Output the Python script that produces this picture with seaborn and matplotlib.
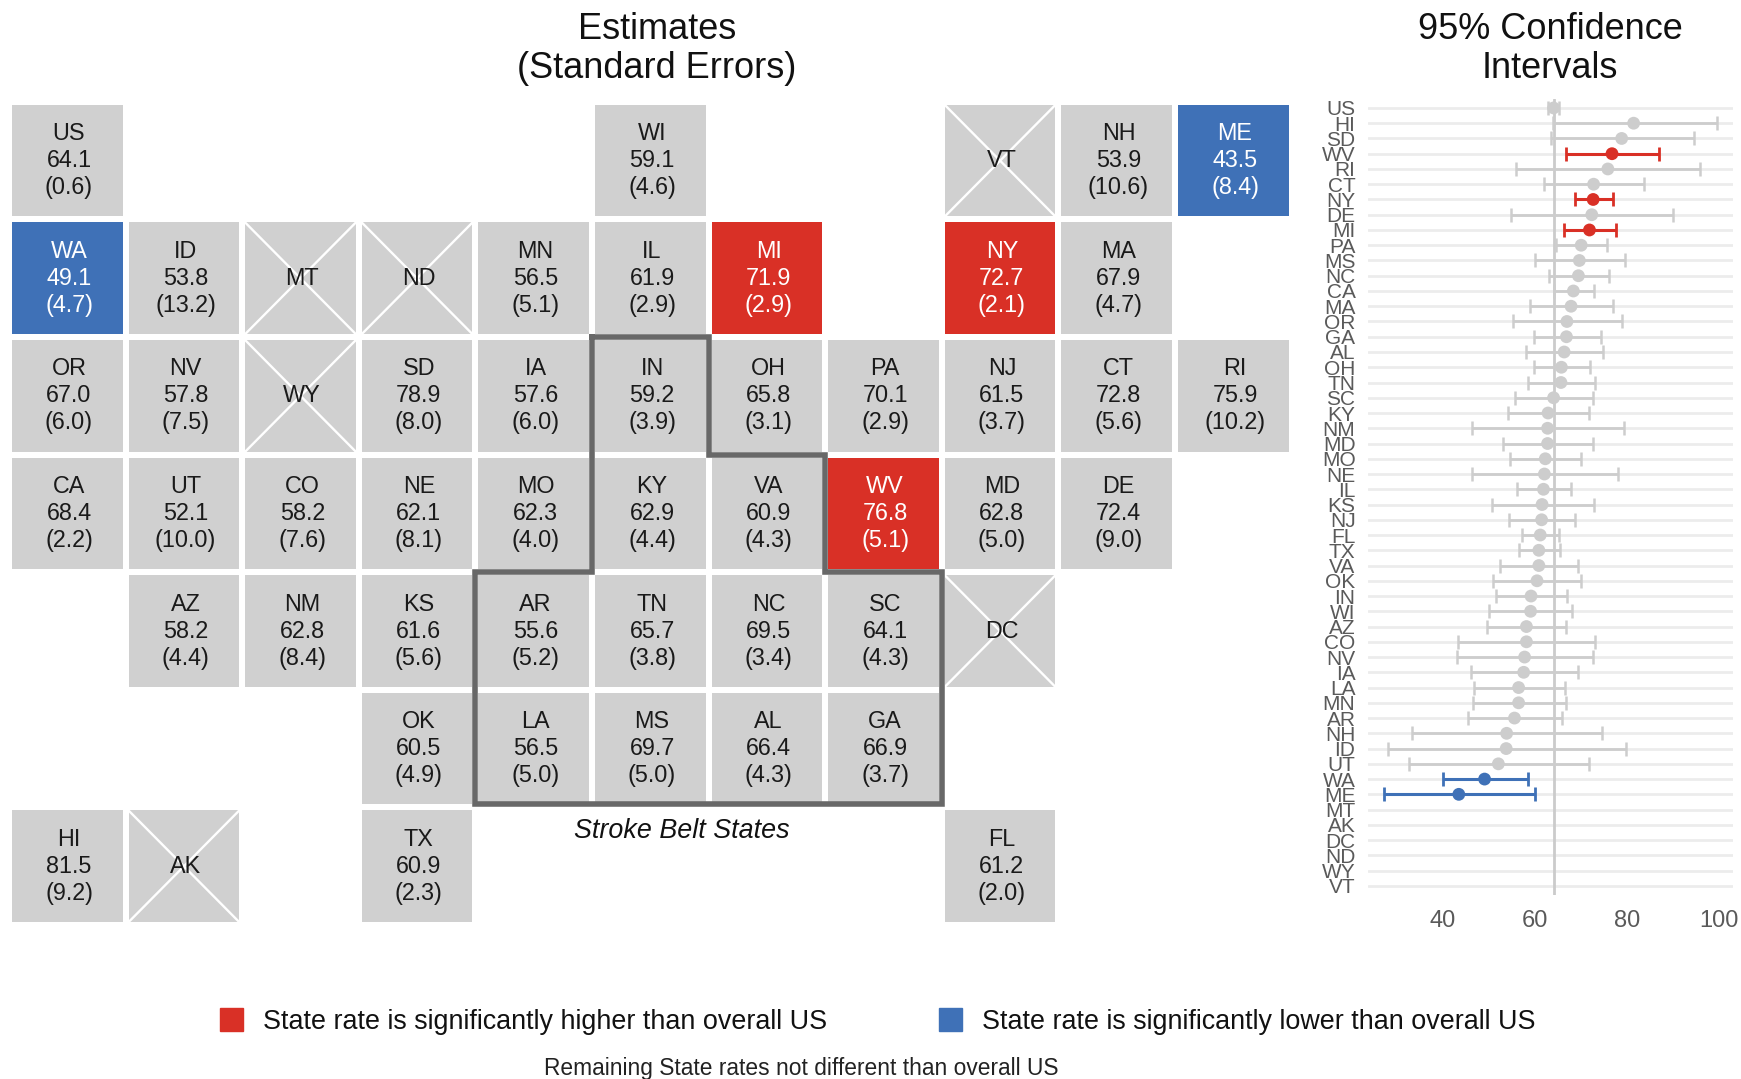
import numpy as np
import pandas as pd
import seaborn as sns
import matplotlib
matplotlib.use("Agg")
import matplotlib.pyplot as plt
from matplotlib.colors import ListedColormap
from matplotlib.patches import Patch

# Tile map data
states = ["US", "WI", "VT", "NH", "ME",
          "WA", "ID", "MT", "ND", "MN", "IL", "MI", "NY", "MA",
          "OR", "NV", "WY", "SD", "IA", "IN", "OH", "PA", "NJ", "CT", "RI",
          "CA", "UT", "CO", "NE", "MO", "KY", "VA", "WV", "MD", "DE",
          "AZ", "NM", "KS", "AR", "TN", "NC", "SC", "DC",
          "OK", "LA", "MS", "AL", "GA",
          "HI", "AK", "TX", "FL"]
cols = [0, 5, 8, 9, 10,
        0, 1, 2, 3, 4, 5, 6, 8, 9,
        0, 1, 2, 3, 4, 5, 6, 7, 8, 9, 10,
        0, 1, 2, 3, 4, 5, 6, 7, 8, 9,
        1, 2, 3, 4, 5, 6, 7, 8,
        3, 4, 5, 6, 7,
        0, 1, 3, 8]
rows = [0] * 5 + [1] * 9 + [2] * 11 + [3] * 10 + [4] * 8 + [5] * 5 + [6] * 4
estimates = [64.1, 59.1, None, 53.9, 43.5,
             49.1, 53.8, None, None, 56.5, 61.9, 71.9, 72.7, 67.9,
             67.0, 57.8, None, 78.9, 57.6, 59.2, 65.8, 70.1, 61.5, 72.8, 75.9,
             68.4, 52.1, 58.2, 62.1, 62.3, 62.9, 60.9, 76.8, 62.8, 72.4,
             58.2, 62.8, 61.6, 55.6, 65.7, 69.5, 64.1, None,
             60.5, 56.5, 69.7, 66.4, 66.9,
             81.5, None, 60.9, 61.2]
std_errs = [0.6, 4.6, None, 10.6, 8.4,
            4.7, 13.2, None, None, 5.1, 2.9, 2.9, 2.1, 4.7,
            6.0, 7.5, None, 8.0, 6.0, 3.9, 3.1, 2.9, 3.7, 5.6, 10.2,
            2.2, 10.0, 7.6, 8.1, 4.0, 4.4, 4.3, 5.1, 5.0, 9.0,
            4.4, 8.4, 5.6, 5.2, 3.8, 3.4, 4.3, None,
            4.9, 5.0, 5.0, 4.3, 3.7,
            9.2, None, 2.3, 2.0]
higher_states = ["MI", "NY", "WV"]
lower_states = ["WA", "ME"]

# Confidence interval panel, top to bottom
ci_order = ["US", "HI", "SD", "WV", "RI", "CT", "NY", "DE", "MI", "PA", "MS", "NC", "CA",
            "MA", "OR", "GA", "AL", "OH", "TN", "SC", "KY", "NM", "MD", "MO", "NE", "IL",
            "KS", "NJ", "FL", "TX", "VA", "OK", "IN", "WI", "AZ", "CO", "NV", "IA", "LA",
            "MN", "AR", "NH", "ID", "UT", "WA", "ME", "MT", "AK", "DC", "ND", "WY", "VT"]
ci_low = [62.9, 63.9, 63.5, 66.8, 56.0, 62.0, 68.7, 54.8, 66.4, 64.6, 60.0, 63.0, 64.2,
          58.9, 55.3, 59.8, 58.2, 59.8, 58.5, 55.8, 54.3, 46.4, 53.0, 54.6, 46.3, 56.2,
          50.8, 54.4, 57.3, 56.5, 52.5, 51.0, 51.6, 50.1, 49.7, 43.4, 43.2, 46.1, 46.8,
          46.6, 45.5, 33.3, 28.0, 32.7, 40.0, 27.2, None, None, None, None, None, None]
ci_high = [65.3, 99.6, 94.6, 87.0, 96.0, 83.8, 77.1, 90.1, 77.7, 75.8, 79.6, 76.2, 72.9,
           77.1, 78.9, 74.3, 74.9, 72.0, 73.2, 72.7, 71.7, 79.3, 72.6, 70.1, 78.0, 67.8,
           72.8, 68.8, 65.3, 65.5, 69.3, 70.1, 67.0, 68.2, 66.9, 73.2, 72.7, 69.3, 66.5,
           66.7, 65.9, 74.7, 79.9, 71.8, 58.5, 60.1, None, None, None, None, None, None]
us_rate = 64.1

GREY = "#D0D0D0"
RED = "#D93026"
BLUE = "#3F71B7"
W, H = 1741, 1079

sns.set_theme(style="white")
plt.rcParams["font.family"] = ["Liberation Sans", "DejaVu Sans"]

df = pd.DataFrame({"state": states, "col": cols, "row": rows, "est": estimates, "se": std_errs})
df["group"] = 0
df.loc[df["state"].isin(lower_states), "group"] = 1
df.loc[df["state"].isin(higher_states), "group"] = 2


def label(r):
    if pd.isna(r["est"]):
        return r["state"]
    return f"{r['state']}\n{r['est']:.1f}\n({r['se']:.1f})"


df["label"] = df.apply(label, axis=1)
grid = df.pivot(index="row", columns="col", values="group")
annot = df.pivot(index="row", columns="col", values="label").fillna("")

fig = plt.figure(figsize=(W / 100, H / 100), dpi=100)

# Tile map
ax = fig.add_axes([9.0 / W, 1 - 925.1 / H, 1282.6 / W, 823.2 / H])
sns.heatmap(grid, ax=ax, cmap=ListedColormap([GREY, BLUE, RED]), vmin=0, vmax=2, cbar=False,
            mask=grid.isna(), annot=annot, fmt="", linewidths=4.2, linecolor="white",
            annot_kws={"fontsize": 16.8, "linespacing": 1.22}, xticklabels=False, yticklabels=False)
ax.set_xlabel("")
ax.set_ylabel("")

# Darker text than the heatmap default on the grey tiles, labels sit a bit right of centre
for t in ax.texts:
    x, y = t.get_position()
    t.set_position((x + 0.015, y))
    if t.get_color() != "w":
        t.set_color("#1A1A1A")

# Crossed out tiles have no estimate
for _, r in df[df["est"].isna()].iterrows():
    ax.plot([r["col"], r["col"] + 1], [r["row"], r["row"] + 1], color="white", lw=1.7)
    ax.plot([r["col"], r["col"] + 1], [r["row"] + 1, r["row"]], color="white", lw=1.7)

# Stroke belt outline
belt_x = [5, 6, 6, 7, 7, 8, 8, 4, 4, 5, 5]
belt_y = [2, 2, 3, 3, 4, 4, 5.97, 5.97, 4, 4, 2]
ax.plot(belt_x, belt_y, color="#686868", lw=4.0, solid_joinstyle="miter", solid_capstyle="projecting")
ax.text(5.77, 6.2, "Stroke Belt States", style="italic", fontsize=19.4, color="#111111",
        ha="center", va="center")

# CI panel
ci = pd.DataFrame({"state": ci_order, "low": ci_low, "high": ci_high})
ci = ci.merge(df[["state", "est", "group"]], on="state", how="left")
ci.loc[ci["state"] == "US", "est"] = us_rate

ax2 = fig.add_axes([1368 / W, 1 - 895 / H, 365 / W, 796.2 / H])
sns.scatterplot(data=ci, x="est", y="state", hue="group", palette={0: "#CDCDCD", 1: BLUE, 2: RED},
                s=85, linewidth=0, legend=False, zorder=4, ax=ax2)
for g, color, lw in [(0, "#CDCDCD", 2.0), (1, BLUE, 2.2), (2, RED, 2.2)]:
    part = ci[(ci["group"] == g) & ci["low"].notna()]
    ax2.errorbar(part["est"], part["state"],
                 xerr=[part["est"] - part["low"], part["high"] - part["est"]],
                 fmt="none", ecolor=color, elinewidth=lw, capsize=4.8, capthick=lw - 0.2, zorder=3)
ax2.axvline(us_rate, color="#CBCBCB", lw=2.0, zorder=2)
ax2.set_xlim(23.76, 103.1)
ax2.set_ylim(51.6, -0.6)
ax2.set_xticks([40, 60, 80, 100])
ax2.set_xlabel("")
ax2.set_ylabel("")
ax2.grid(axis="y", color="#ECECEC", lw=2.0)
ax2.grid(axis="x", visible=False)
ax2.set_axisbelow(True)
ax2.tick_params(axis="y", length=0, pad=9, labelsize=15, labelcolor="#5A5A5A")
ax2.tick_params(axis="x", length=0, pad=11, labelsize=17, labelcolor="#5A5A5A")
sns.despine(ax=ax2, left=True, bottom=True)

# Titles
fig.text(657 / W, 1 - 49 / H, "Estimates\n(Standard Errors)", ha="center", va="center",
         fontsize=26, color="#111111", linespacing=1.14)
fig.text(1550 / W, 1 - 49 / H, "95% Confidence\nIntervals", ha="center", va="center",
         fontsize=26, color="#111111", linespacing=1.14)

# Legend and note
handles = [Patch(color=RED, label="State rate is significantly higher than overall US"),
           Patch(color=BLUE, label="State rate is significantly lower than overall US")]
fig.legend(handles=handles, loc="center", bbox_to_anchor=(878 / W, 1 - 1021.5 / H), ncol=2, frameon=False,
           fontsize=19.4, handlelength=0.85, handleheight=0.95, handletextpad=0.74, columnspacing=4.15,
           labelcolor="#111111")
fig.text(801 / W, 1 - 1068.5 / H, "Remaining State rates not different than overall US", ha="center",
         va="center", fontsize=16.4, color="#222222")

fig.savefig("out.png", dpi=100, facecolor="white")
